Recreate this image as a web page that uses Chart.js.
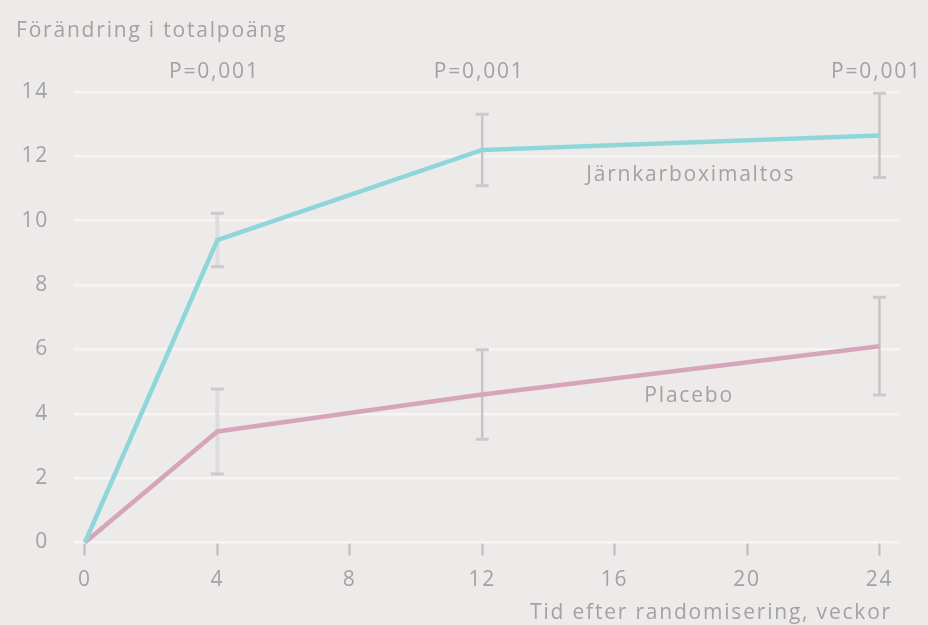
<!DOCTYPE html>
<html lang="sv">
<head>
<meta charset="utf-8">
<title>Förändring i totalpoäng</title>
<script src="https://cdn.jsdelivr.net/npm/chart.js@4.4.1/dist/chart.umd.min.js"></script>
<style>
  html, body { margin: 0; padding: 0; background: #edebea; }
  #wrap { width: 928px; height: 625px; position: relative; }
</style>
</head>
<body>
<div id="wrap"><canvas id="chart" width="928" height="625"></canvas></div>
<script>
// Mätpunkter (veckor efter randomisering)
const weeks = [0, 4, 12, 24];
const xTicks = [0, 4, 8, 12, 16, 20, 24];
const yTicks = [0, 2, 4, 6, 8, 10, 12, 14];

// Medelförändring i totalpoäng per grupp
const ironValues = [0, 9.4, 12.2, 12.65];
const placeboValues = [0, 3.45, 4.6, 6.1];

// Felstaplar (±) per mätpunkt; null = ingen felstapel
const ironErrors = [null, 0.83, 1.11, 1.31];
const placeboErrors = [null, 1.32, 1.39, 1.52];

// P-värden ovanför diagrammet
const pWeeks = [4, 12, 24];
const pLabels = ['P=0,001', 'P=0,001', 'P=0,001'];

const seriesNames = ['Järnkarboximaltos', 'Placebo'];

const FONT = '"Open Sans", "Liberation Sans", sans-serif';
const TEXT = '#a3a1a1';
const SPACING = '1.8px';

const toPoints = vals => weeks.map((w, i) => ({ x: w, y: vals[i] }));

// Luftigare teckenavstånd för all text i diagrammet
const spacing = {
  id: 'spacing',
  beforeDraw(chart) { chart.ctx.letterSpacing = SPACING; }
};

// Felstaplar ritas under linjerna
const errorBars = {
  id: 'errorBars',
  beforeDatasetsDraw(chart) {
    const { ctx, scales: { x, y } } = chart;
    const sets = [ironErrors, placeboErrors];
    const vals = [ironValues, placeboValues];
    ctx.save();
    sets.forEach((errs, s) => {
      errs.forEach((e, i) => {
        if (e == null) return;
        const px = x.getPixelForValue(weeks[i]);
        const top = y.getPixelForValue(vals[s][i] + e);
        const bot = y.getPixelForValue(vals[s][i] - e);
        const light = weeks[i] === 4;
        ctx.strokeStyle = light ? '#dddbdb' : '#c6c4c4';
        ctx.lineWidth = light ? 4 : 2.5;
        ctx.beginPath();
        ctx.moveTo(px, top); ctx.lineTo(px, bot);
        ctx.stroke();
        ctx.strokeStyle = '#cbc9c9';
        ctx.lineWidth = 3;
        ctx.beginPath();
        ctx.moveTo(px - 6.5, top); ctx.lineTo(px + 6.5, top);
        ctx.moveTo(px - 6.5, bot); ctx.lineTo(px + 6.5, bot);
        ctx.stroke();
      });
    });
    ctx.restore();
  }
};

// Rubrik, axeltitel, p-värden och serienamn
const labels = {
  id: 'labels',
  afterDraw(chart) {
    const { ctx, scales: { x, y } } = chart;
    ctx.save();
    ctx.letterSpacing = SPACING;
    ctx.fillStyle = TEXT;
    ctx.textBaseline = 'middle';
    ctx.font = '21px ' + FONT;
    ctx.textAlign = 'left';
    ctx.fillText('Förändring i totalpoäng', 16, 31);

    ctx.textAlign = 'right';
    ctx.fillText('Tid efter randomisering, veckor', 892, 613);

    ctx.textAlign = 'center';
    pWeeks.forEach((w, i) => {
      ctx.fillText(pLabels[i], x.getPixelForValue(w) - 3, 72);
    });

    ctx.fillText(seriesNames[0], x.getPixelForValue(18.3), 175);
    ctx.fillText(seriesNames[1], x.getPixelForValue(18.25), 396);
    ctx.restore();
  }
};

new Chart(document.getElementById('chart'), {
  type: 'line',
  data: {
    datasets: [
      {
        label: seriesNames[0],
        data: toPoints(ironValues),
        borderColor: '#8fd6d9',
        borderWidth: 4.5,
        pointRadius: 0,
        tension: 0,
        clip: false
      },
      {
        label: seriesNames[1],
        data: toPoints(placeboValues),
        borderColor: '#d5a6ba',
        borderWidth: 4.5,
        pointRadius: 0,
        tension: 0,
        clip: false
      }
    ]
  },
  options: {
    responsive: false,
    animation: false,
    events: [],
    layout: { padding: { left: 0, right: 28, top: 92, bottom: 0 } },
    plugins: { legend: { display: false }, tooltip: { enabled: false } },
    scales: {
      x: {
        type: 'linear',
        min: -0.33,
        max: 24.62,
        afterBuildTicks(scale) { scale.ticks = xTicks.map(v => ({ value: v })); },
        afterFit(scale) { scale.height = 82.5; },
        border: { display: false },
        grid: {
          drawOnChartArea: false,
          drawTicks: true,
          tickLength: 13,
          tickWidth: 2,
          tickColor: '#bdbbbb'
        },
        ticks: {
          padding: 12,
          color: TEXT,
          font: { family: FONT, size: 21 },
          maxRotation: 0
        }
      },
      y: {
        type: 'linear',
        min: 0,
        max: 14,
        afterBuildTicks(scale) { scale.ticks = yTicks.map(v => ({ value: v })); },
        afterFit(scale) { scale.width = 74; },
        border: { display: false },
        grid: {
          color: '#f6f5f4',
          lineWidth: 2.5,
          drawTicks: false
        },
        ticks: {
          padding: 25,
          color: TEXT,
          font: { family: FONT, size: 21 }
        }
      }
    }
  },
  plugins: [spacing, errorBars, labels]
});
</script>
</body>
</html>
